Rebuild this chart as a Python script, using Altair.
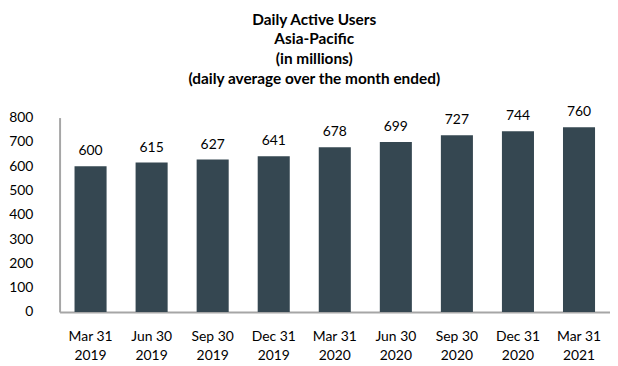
import altair as alt
import pandas as pd

quarters = ["Mar 31|2019", "Jun 30|2019", "Sep 30|2019", "Dec 31|2019", "Mar 31|2020",
            "Jun 30|2020", "Sep 30|2020", "Dec 31|2020", "Mar 31|2021"]
users = [600, 615, 627, 641, 678, 699, 727, 744, 760]
title_lines = ["Daily Active Users", "Asia-Pacific", "(in millions)",
               "(daily average over the month ended)"]

df = pd.DataFrame({"q": quarters, "v": users})
FONT = "Lato"

base = alt.Chart(df).encode(
    x=alt.X("q:N", sort=quarters, title=None,
            scale=alt.Scale(paddingInner=0.475, paddingOuter=0.245),
            axis=alt.Axis(labelAngle=0, labelExpr="split(datum.label, '|')",
                          labelLineHeight=19, labelFontSize=14, labelFont=FONT,
                          labelColor="#000", labelPadding=18, ticks=False,
                          domainColor="#a6a6a6", domainWidth=2, labelBaseline="top")),
    y=alt.Y("v:Q", title=None,
            scale=alt.Scale(domain=[0, 800]),
            axis=alt.Axis(values=list(range(0, 801, 100)), grid=False, ticks=False,
                          labelFontSize=14, labelFont=FONT, labelColor="#000",
                          labelPadding=27, domainColor="#a6a6a6", domainWidth=2)),
)

bars = base.mark_bar(color="#354751")
labels = base.mark_text(baseline="bottom", dy=-8, fontSize=14, font=FONT, color="#000").encode(
    text="v:Q")

chart = (bars + labels).properties(
    width=555, height=196,
    autosize=alt.AutoSizeParams(type="none"),
    padding={"left": 52, "top": 109, "right": 0, "bottom": 52},
    title=alt.TitleParams(title_lines, font=FONT, fontSize=15.5, fontWeight="bold",
                          color="#000", lineHeight=20, anchor="middle", frame="bounds",
                          offset=18, dx=5),
).configure_view(stroke=None)

chart.save("out.html", embed_options={"renderer": "svg", "actions": False})
